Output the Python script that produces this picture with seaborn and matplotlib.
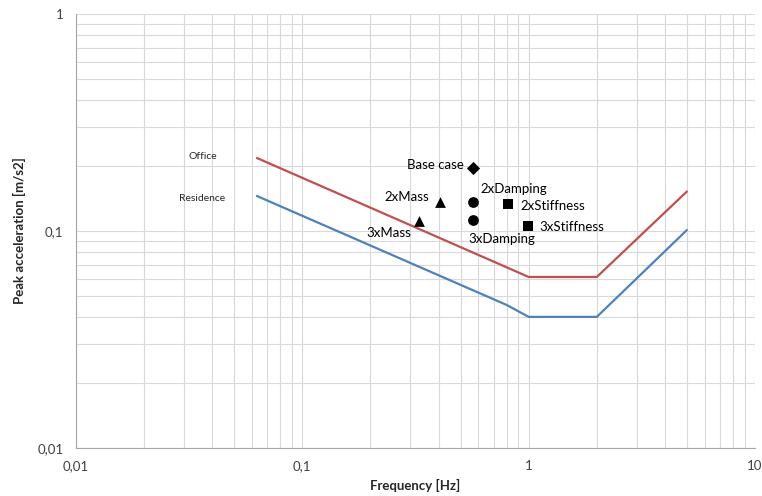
import numpy as np
import pandas as pd
import matplotlib
matplotlib.use("Agg")
import matplotlib.pyplot as plt
import matplotlib.ticker as mticker
import seaborn as sns

# limit curves (frequency in Hz, peak acceleration in m/s2)
curve_freq = [0.063, 0.8, 1.0, 2.0, 5.0]
office_acc = [0.217, 0.068, 0.0614, 0.0614, 0.152]
residence_acc = [0.145, 0.0456, 0.0402, 0.0402, 0.101]

# design cases
case_names = ["Base case", "2xMass", "3xMass", "2xDamping", "3xDamping",
              "2xStiffness", "3xStiffness"]
case_freq = [0.57, 0.405, 0.328, 0.57, 0.57, 0.81, 0.99]
case_acc = [0.195, 0.136, 0.111, 0.136, 0.112, 0.133, 0.105]
case_marker = ["D", "^", "^", "o", "o", "s", "s"]

# label offsets in pixels (dx, dy) and alignment
label_pos = {
    "Base case": (-10, 3, "right"),
    "2xMass": (-11, 5, "right"),
    "3xMass": (-8, -12, "right"),
    "2xDamping": (7, 13, "left"),
    "3xDamping": (-5, -19, "left"),
    "2xStiffness": (12, -2, "left"),
    "3xStiffness": (12, -1, "left"),
}

sns.set_style("white")
plt.rcParams["font.family"] = ["Lato", "DejaVu Sans"]

fig = plt.figure(figsize=(7.62, 4.96), dpi=100)
ax = fig.add_axes([76 / 762, 1 - 448 / 496, (755 - 76) / 762, (448 - 14) / 496])

lines = pd.DataFrame({
    "freq": curve_freq * 2,
    "acc": office_acc + residence_acc,
    "curve": ["Office"] * len(curve_freq) + ["Residence"] * len(curve_freq),
})
sns.lineplot(data=lines, x="freq", y="acc", hue="curve",
             palette={"Office": "#C0504D", "Residence": "#4F81BD"},
             linewidth=1.6, legend=False, ax=ax, sort=False)

cases = pd.DataFrame({"freq": case_freq, "acc": case_acc, "name": case_names})
for m in ["D", "^", "o", "s"]:
    sub = cases[[mk == m for mk in case_marker]]
    size = 45 if m == "D" else 60
    sns.scatterplot(data=sub, x="freq", y="acc", marker=m, color="black",
                    s=size, edgecolor="black", linewidth=0, ax=ax, zorder=5)

for name, f, a in zip(case_names, case_freq, case_acc):
    dx, dy, ha = label_pos[name]
    ax.annotate(name, (f, a), xytext=(dx * 0.72, dy * 0.72),
                textcoords="offset points", ha=ha, va="center",
                fontsize=9.5, color="black")

ax.annotate("Office", (curve_freq[0], office_acc[0]), xytext=(-40 * 0.72, 1 * 0.72),
            textcoords="offset points", ha="right", va="center", fontsize=7.5)
ax.annotate("Residence", (curve_freq[0], residence_acc[0]),
            xytext=(-32 * 0.72, -3 * 0.72),
            textcoords="offset points", ha="right", va="center", fontsize=7.5)

ax.set_xscale("log")
ax.set_yscale("log")
ax.set_xlim(0.01, 10)
ax.set_ylim(0.01, 1)

fmt = mticker.FuncFormatter(lambda v, p: ("%g" % v).replace(".", ","))
ax.xaxis.set_major_locator(mticker.FixedLocator([0.01, 0.1, 1, 10]))
ax.yaxis.set_major_locator(mticker.FixedLocator([0.01, 0.1, 1]))
ax.xaxis.set_major_formatter(fmt)
ax.yaxis.set_major_formatter(fmt)
ax.xaxis.set_minor_locator(mticker.LogLocator(base=10, subs=np.arange(2, 10)))
ax.yaxis.set_minor_locator(mticker.LogLocator(base=10, subs=np.arange(2, 10)))
ax.xaxis.set_minor_formatter(mticker.NullFormatter())
ax.yaxis.set_minor_formatter(mticker.NullFormatter())

ax.grid(True, which="both", color="#D9D9D9", linewidth=0.8)
ax.set_axisbelow(True)
for s in ["top", "right"]:
    ax.spines[s].set_visible(False)
for s in ["left", "bottom"]:
    ax.spines[s].set_color("#A6A6A6")
    ax.spines[s].set_linewidth(0.8)
ax.tick_params(which="major", direction="out", length=4, color="#A6A6A6",
               labelsize=9.5, labelcolor="#404040", pad=5)
ax.tick_params(which="minor", length=0)

ax.set_xlabel("Frequency [Hz]", fontsize=9.5, fontweight="bold", labelpad=5)
ax.set_ylabel("Peak acceleration [m/s2]", fontsize=9.5, fontweight="bold", labelpad=8)

plt.savefig("out.png", dpi=100)
